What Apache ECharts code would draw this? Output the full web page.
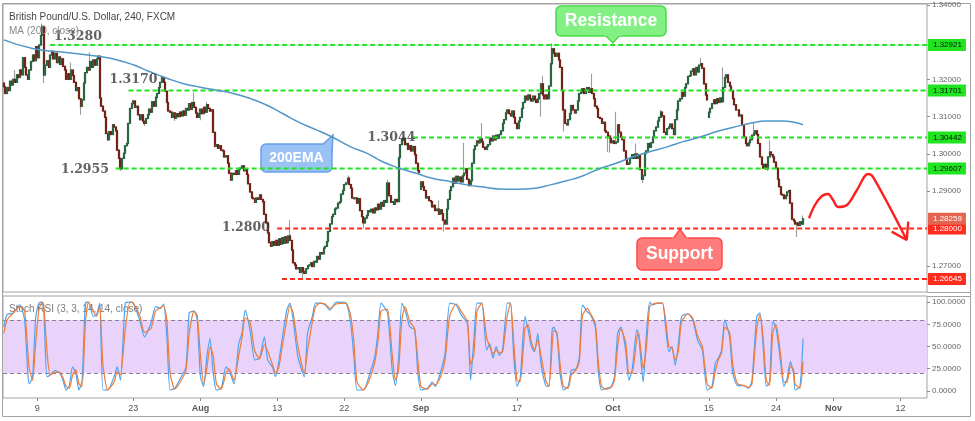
<!DOCTYPE html>
<html><head><meta charset="utf-8">
<script src="https://cdn.jsdelivr.net/npm/echarts@6/dist/echarts.min.js"></script>
<style>html,body{margin:0;padding:0;background:#fff}#c{width:975px;height:421px}</style>
</head><body><div id="c"></div>
<script>
// ---------------- data ----------------
const barCount = 578;
const firstOpen = 1.3190;
const closes = [
1.3180,1.3162,1.3178,1.3170,1.3195,1.3185,1.3200,1.3192,1.3212,1.3205,
1.3225,1.3212,1.3258,1.3232,1.3212,1.3200,1.3225,1.3248,1.3265,1.3250,
1.3288,1.3258,1.3292,1.3318,1.3342,1.3212,1.3238,1.3250,1.3232,1.3265,
1.3275,1.3255,1.3270,1.3245,1.3260,1.3240,1.3255,1.3235,1.3225,1.3200,
1.3215,1.3200,1.3225,1.3210,1.3192,1.3170,1.3178,1.3148,1.3128,1.3145,
1.3190,1.3218,1.3232,1.3225,1.3248,1.3232,1.3252,1.3238,1.3255,1.3262,
1.3150,1.3128,1.3115,1.3098,1.3055,1.3038,1.3060,1.3052,1.3078,1.3072,
1.3062,1.3010,1.2988,1.2960,1.2988,1.3002,1.3022,1.3028,1.3082,1.3122,
1.3135,1.3142,1.3125,1.3128,1.3105,1.3092,1.3105,1.3088,1.3082,1.3095,
1.3105,1.3120,1.3112,1.3140,1.3128,1.3152,1.3162,1.3178,1.3192,1.3205,
1.3192,1.3168,1.3138,1.3115,1.3112,1.3098,1.3110,1.3096,1.3108,1.3100,
1.3112,1.3102,1.3115,1.3104,1.3122,1.3118,1.3135,1.3120,1.3138,1.3125,
1.3110,1.3098,1.3108,1.3120,1.3108,1.3125,1.3112,1.3132,1.3122,1.3115,
1.3118,1.3058,1.3020,1.3025,1.3015,1.3022,1.3010,1.3008,1.2992,1.2995,
1.2975,1.2948,1.2930,1.2948,1.2945,1.2955,1.2945,1.2958,1.2962,1.2968,
1.2955,1.2958,1.2945,1.2920,1.2898,1.2882,1.2880,1.2870,1.2882,1.2878,
1.2890,1.2878,1.2872,1.2838,1.2815,1.2788,1.2762,1.2752,1.2765,1.2755,
1.2768,1.2755,1.2772,1.2758,1.2775,1.2760,1.2778,1.2762,1.2780,1.2768,
1.2742,1.2708,1.2702,1.2692,1.2695,1.2682,1.2695,1.2685,1.2680,1.2692,
1.2700,1.2702,1.2708,1.2698,1.2712,1.2710,1.2725,1.2718,1.2735,1.2732,
1.2748,1.2752,1.2765,1.2792,1.2812,1.2832,1.2838,1.2852,1.2855,1.2868,
1.2872,1.2892,1.2902,1.2918,1.2922,1.2935,1.2918,1.2908,1.2882,1.2880,
1.2882,1.2868,1.2880,1.2848,1.2832,1.2815,1.2828,1.2835,1.2848,1.2845,
1.2852,1.2842,1.2855,1.2850,1.2865,1.2852,1.2870,1.2860,1.2875,1.2870,
1.2922,1.2888,1.2870,1.2872,1.2865,1.2878,1.2872,1.2990,1.3025,1.3038,
1.3042,1.3025,1.3028,1.3012,1.3022,1.3008,1.3020,1.2998,1.2975,1.2955,
1.2950,1.2925,1.2912,1.2902,1.2882,1.2885,1.2875,1.2872,1.2858,1.2862,
1.2848,1.2852,1.2838,1.2850,1.2840,1.2822,1.2812,1.2852,1.2878,1.2902,
1.2912,1.2935,1.2922,1.2940,1.2928,1.2938,1.2925,1.2942,1.2948,1.2960,
1.2932,1.2915,1.2928,1.2975,1.3012,1.3022,1.3035,1.3030,1.3040,1.3032,
1.3018,1.3012,1.3020,1.3025,1.3042,1.3035,1.3048,1.3038,1.3050,1.3042,
1.3052,1.3062,1.3082,1.3092,1.3110,1.3118,1.3108,1.3102,1.3115,1.3098,
1.3082,1.3068,1.3088,1.3098,1.3122,1.3138,1.3155,1.3145,1.3158,1.3148,
1.3142,1.3155,1.3145,1.3138,1.3148,1.3162,1.3188,1.3158,1.3148,1.3158,
1.3148,1.3182,1.3242,1.3282,1.3270,1.3262,1.3270,1.3252,1.3232,1.3170,
1.3118,1.3082,1.3078,1.3092,1.3108,1.3130,1.3118,1.3110,1.3118,1.3142,
1.3162,1.3165,1.3175,1.3162,1.3172,1.3178,1.3165,1.3175,1.3162,1.3148,
1.3128,1.3122,1.3098,1.3095,1.3082,1.3085,1.3062,1.3058,1.3048,1.3042,
1.3030,1.3035,1.3028,1.3032,1.3078,1.3058,1.3045,1.3038,1.3008,1.2985,
1.2972,1.2975,1.2988,1.2998,1.2988,1.3000,1.2988,1.2998,1.2958,1.2932,
1.2942,1.3002,1.3008,1.3028,1.3018,1.3030,1.3045,1.3062,1.3072,1.3088,
1.3098,1.3112,1.3102,1.3058,1.3052,1.3068,1.3072,1.3080,1.3068,1.3052,
1.3092,1.3118,1.3142,1.3148,1.3165,1.3155,1.3178,1.3188,1.3208,1.3210,
1.3222,1.3228,1.3212,1.3232,1.3220,1.3238,1.3242,1.3230,1.3188,1.3158,
1.3145,1.3112,1.3122,1.3135,1.3145,1.3135,1.3148,1.3138,1.3150,1.3140,
1.3178,1.3205,1.3212,1.3192,1.3182,1.3170,1.3148,1.3132,1.3118,1.3118,
1.3102,1.3104,1.3078,1.3045,1.3028,1.3022,1.3030,1.3038,1.3050,1.3055,
1.3062,1.3052,1.3028,1.2992,1.2972,1.2962,1.2972,1.2960,1.2992,1.3005,
1.2998,1.2992,1.2978,1.2962,1.2932,1.2912,1.2892,1.2890,1.2880,1.2888,
1.2898,1.2902,1.2868,1.2825,1.2820,1.2812,1.2815,1.2808,1.2818,1.2812,1.2826
];
const gapOpens = {261: 1.2905, 441: 1.3098};
const wickHighs = {7:1.3225, 24:1.3350, 42:1.3245, 54:1.3273, 99:1.3210, 119:1.3165, 127:1.3140, 179:1.2823,
  216:1.2942, 240:1.2930, 250:1.3048, 272:1.2875, 288:1.3030, 299:1.3083, 337:1.3210, 343:1.3297, 368:1.3215,
  383:1.3113, 395:1.3028, 411:1.3118, 436:1.3257, 450:1.3232, 469:1.3086, 479:1.3037, 500:1.2835};
const wickLows = {25:1.3190, 48:1.3105, 73:1.2955, 88:1.3075, 107:1.3088, 123:1.3090, 187:1.2665, 225:1.2800,
  275:1.2791, 336:1.3100, 350:1.3060, 378:1.3005, 379:1.3003, 400:1.2922, 478:1.2955, 496:1.2777};

const maIdx = [0,18,39,60,71,81,91,102,112,123,133,143,154,165,175,185,196,206,217,227,237,248,258,268,279,290,300,310,321,331,342,352,362,373,383,394,404,415,425,436,446,456,467,477,487,500];
const maVals = [1.3306,1.3283,1.3272,1.3261,1.3252,1.3239,1.3221,1.3203,1.3189,1.3179,1.3171,1.3163,1.3149,1.3130,1.3107,1.3084,1.3064,1.3044,1.3019,1.3002,1.2979,1.2961,1.2948,1.2935,1.2926,1.2917,1.2911,1.2906,1.2905,1.2907,1.2917,1.2928,1.2941,1.2961,1.2975,1.2993,1.3006,1.3019,1.3033,1.3046,1.3060,1.3071,1.3082,1.3088,1.3088,1.3078];

const stochIdx = [0,2,6,10,13,15,16,18,20,22,24,25,27,29,32,35,37,39,41,43,45,47,49,51,53,56,58,60,62,65,69,71,73,76,79,81,85,88,92,95,98,100,102,104,107,111,114,116,119,121,123,125,127,129,131,133,136,139,141,144,147,149,151,154,157,160,163,165,168,170,172,174,177,179,181,184,188,190,193,195,198,201,204,208,214,217,219,221,225,229,232,234,236,240,243,245,247,249,251,254,257,259,261,265,268,270,273,276,279,283,286,290,292,294,296,299,302,304,306,308,310,312,315,317,319,321,323,326,328,330,332,334,336,339,341,343,344,346,348,350,353,355,358,360,362,365,367,370,372,374,377,380,382,384,386,389,391,393,396,397,400,402,404,406,409,412,414,416,418,420,422,424,428,431,434,437,440,443,445,447,449,451,454,456,459,463,466,468,471,473,475,477,479,481,483,486,488,490,492,494,495,498,500];
const stochK = [72,86,88,97,80,20,8,16,84,99,100,91,16,18,23,20,12,1,6,27,20,1,12,99,100,84,86,99,1,1,16,27,12,99,100,99,80,61,76,95,93,98,61,1,3,16,27,88,90,80,16,5,38,59,20,1,3,27,23,8,54,65,91,69,35,37,61,35,27,16,33,57,91,99,80,38,16,65,84,99,99,97,91,100,99,76,38,1,1,20,38,65,99,88,23,6,38,99,91,72,69,20,1,3,10,5,20,42,99,97,86,76,12,57,99,99,46,53,37,50,40,46,99,99,38,5,14,84,69,50,44,65,31,6,5,69,72,63,20,1,5,23,25,38,97,89,86,72,20,1,3,5,16,65,72,46,12,23,69,65,10,65,100,97,99,99,72,44,50,29,53,84,87,80,57,46,1,5,31,37,46,80,61,20,6,6,3,12,84,88,50,5,10,78,72,31,5,14,33,20,1,5,59];
const stochD = [65,80,88,95,90,45,25,12,55,92,100,97,45,18,21,21,15,5,3,18,24,8,5,75,100,90,84,95,30,1,10,22,18,70,100,99,85,66,70,90,94,96,80,20,2,12,24,65,90,85,40,8,25,50,40,8,2,20,25,12,40,60,82,78,45,36,52,45,30,20,26,48,80,96,88,50,20,45,78,95,99,98,93,98,99,85,55,10,1,14,32,55,90,92,40,12,25,80,95,78,70,35,5,2,8,7,15,35,85,98,90,78,30,40,90,99,60,50,42,46,43,44,85,99,55,12,10,70,75,55,46,58,40,12,5,50,68,66,30,5,3,18,24,33,85,93,87,76,30,5,2,4,12,50,70,55,20,20,60,66,25,50,95,98,99,99,80,50,48,35,45,78,87,82,62,50,8,3,22,35,43,72,66,30,8,6,4,8,70,86,60,12,6,65,75,40,10,10,28,24,8,3,33];

const levelPrices = [1.32921, 1.31701, 1.30442, 1.29607, 1.28000, 1.26645];
const levelStartIdx = [29, 78, 256, 70, 171, 174];
const levelKinds = ['resistance','resistance','resistance','resistance','support','support'];
const lastPrice = 1.28259;

const xTickIdx = [21, 81, 123, 171, 213, 261, 321, 381, 441, 483, 519, 561];
const xTickLabels = ['9','23','Aug','13','22','Sep','17','Oct','15','24','Nov','12'];
const priceTicks = [1.27, 1.29, 1.30, 1.31, 1.32, 1.34];
const stochTicks = [0, 25, 50, 75, 100];

const annoText = ['1.3280', '1.3170', '1.2955', '1.2800', '1.3044'];
const annoIdx = [46.4, 81.1, 50.8, 151.5, 242.5];
const annoPrice = [1.33136, 1.31983, 1.29569, 1.28014, 1.30428];

const sketchIdx = [503.7, 507.4, 511.8, 515.6, 518.7, 521.8, 527.4, 533.7, 540.6, 543.7, 564.8];
const sketchPrice = [1.28276, 1.28630, 1.28872, 1.28926, 1.28765, 1.28577, 1.28630, 1.29033, 1.29462, 1.29382, 1.27693];
const arrowIdx = [555.4, 564.8, 565.8];
const arrowPrice = [1.27915, 1.27693, 1.28183];

// ---------------- build ----------------
const cats = Array.from({length: barCount}, (_, i) => String(i));
const wickData = [], bodyData = [];
let prev = firstOpen;
closes.forEach((c, i) => {
  const o = gapOpens[i] !== undefined ? gapOpens[i] : prev;
  const hiB = Math.max(o, c), loB = Math.min(o, c);
  const h = wickHighs[i] !== undefined ? Math.max(wickHighs[i], hiB) : hiB;
  const l = wickLows[i] !== undefined ? Math.min(wickLows[i], loB) : loB;
  wickData.push([o, c, l, h]);
  bodyData.push([o, c, loB, hiB]);
  prev = c;
});
const pair = (xs, ys) => xs.map((x, i) => [x, ys[i]]);
const xMax = barCount - 0.5;

const GREEN = '#1fe41f', RED = '#ff2b1c';
const levelSeries = levelPrices.map((p, k) => {
  const res = levelKinds[k] === 'resistance';
  return {
    type: 'line', xAxisIndex: 1, yAxisIndex: 0, symbol: 'none', silent: true, z: 4,
    data: [[levelStartIdx[k], p], [xMax, p]],
    lineStyle: {color: res ? GREEN : RED, width: 2, type: [5, 3]},
    endLabel: {show: true, formatter: () => p.toFixed(5), distance: 1, fontSize: 8,
      fontFamily: 'Liberation Sans, Arial', color: res ? '#111' : '#fff',
      backgroundColor: res ? GREEN : RED, padding: [2, 4, 2, 5]}
  };
});
levelSeries.push({
  type: 'line', xAxisIndex: 1, yAxisIndex: 0, symbol: 'none', silent: true, z: 5,
  data: [[closes.length - 1, lastPrice], [xMax, lastPrice]],
  lineStyle: {opacity: 0},
  endLabel: {show: true, formatter: () => lastPrice.toFixed(5), distance: 1, fontSize: 8,
    fontFamily: 'Liberation Sans, Arial', color: '#fff', backgroundColor: '#e46452', padding: [2, 4, 2, 5]}
});

const noZeroLine = {show: false, onZero: false};
const option = {
  animation: false,
  textStyle: {fontFamily: 'Liberation Sans, Arial, sans-serif'},
  grid: [
    {left: 3, top: 4, width: 924, height: 288, show: true, borderColor: '#a3a3a3', borderWidth: 1},
    {left: 3, top: 296, width: 924, height: 102, show: true, borderColor: '#a3a3a3', borderWidth: 1}
  ],
  xAxis: [
    {type: 'category', gridIndex: 0, data: cats, boundaryGap: true, show: false, axisLine: noZeroLine},
    {type: 'value', gridIndex: 0, min: -0.5, max: xMax, show: false, axisLine: noZeroLine},
    {type: 'value', gridIndex: 1, min: -0.5, max: xMax,
      axisLine: noZeroLine, splitLine: {show: false},
      axisTick: {show: true, customValues: xTickIdx, length: 3, lineStyle: {color: '#8a8a8a'}},
      axisLabel: {customValues: xTickIdx, color: '#555', fontSize: 9, margin: 6,
        formatter: v => { const k = xTickIdx.indexOf(Math.round(v)); if (k < 0) return '';
          const t = xTickLabels[k]; return /^[A-Za-z]/.test(t) ? '{b|' + t + '}' : t; },
        rich: {b: {fontWeight: 'bold', color: '#555', fontSize: 9}}}}
  ],
  yAxis: [
    {type: 'value', gridIndex: 0, position: 'right', min: 1.26297, max: 1.34021, scale: true,
      axisLine: noZeroLine, splitLine: {show: false},
      axisTick: {show: true, customValues: priceTicks, length: 3, lineStyle: {color: '#8a8a8a'}},
      axisLabel: {customValues: priceTicks, formatter: v => v.toFixed(5), fontSize: 8, color: '#666', margin: 5}},
    {type: 'value', gridIndex: 1, position: 'right', min: -8, max: 107,
      axisLine: noZeroLine, splitLine: {show: false},
      axisTick: {show: true, customValues: stochTicks, length: 3, lineStyle: {color: '#8a8a8a'}},
      axisLabel: {customValues: stochTicks, formatter: v => v.toFixed(4), fontSize: 8, color: '#666', margin: 5}}
  ],
  series: [
    {type: 'candlestick', name: 'wick', xAxisIndex: 0, yAxisIndex: 0, data: wickData, barWidth: 1.4, silent: true, z: 2,
      itemStyle: {color: '#9c9c9c', color0: '#9c9c9c', borderColor: '#9c9c9c', borderColor0: '#9c9c9c', borderWidth: 1.1}},
    {type: 'candlestick', name: 'GBPUSD', xAxisIndex: 0, yAxisIndex: 0, data: bodyData, barWidth: 1.5, silent: true, z: 3,
      itemStyle: {color: '#3b875a', color0: '#a9372a', borderColor: '#2a6544', borderColor0: '#742217', borderWidth: 1.2}},
    {type: 'line', name: 'MA 200', xAxisIndex: 1, yAxisIndex: 0, data: pair(maIdx, maVals), smooth: true,
      symbol: 'none', silent: true, z: 6, lineStyle: {color: '#5096c6', width: 1.5}},
    ...levelSeries,
    {type: 'scatter', xAxisIndex: 1, yAxisIndex: 0, silent: true, z: 7, symbolSize: 0,
      data: annoText.map((t, k) => [annoIdx[k], annoPrice[k], t]),
      label: {show: true, position: 'inside', formatter: p => p.data[2], fontFamily: 'DejaVu Serif',
        fontWeight: 'bold', fontSize: 12.5, color: '#3a3a3a'}},
    {type: 'line', xAxisIndex: 1, yAxisIndex: 0, data: pair(sketchIdx, sketchPrice), smooth: 0.35,
      symbol: 'none', silent: true, z: 8, lineStyle: {color: '#ff1f1f', width: 2.4}},
    {type: 'line', xAxisIndex: 1, yAxisIndex: 0, data: pair(arrowIdx, arrowPrice),
      symbol: 'none', silent: true, z: 8, lineStyle: {color: '#ff1f1f', width: 2.4}},
    {type: 'line', name: '%K', xAxisIndex: 2, yAxisIndex: 1, data: pair(stochIdx, stochK), smooth: 0.2,
      symbol: 'none', silent: true, z: 5, lineStyle: {color: '#4ba4f2', width: 1.2},
      markArea: {silent: true, itemStyle: {color: '#e9d3fb'}, data: [[{yAxis: 20}, {yAxis: 80}]]},
      markLine: {silent: true, symbol: 'none', label: {show: false},
        lineStyle: {color: '#8b8090', type: [4, 3], width: 1}, data: [{yAxis: 80}, {yAxis: 20}]}},
    {type: 'line', name: '%D', xAxisIndex: 2, yAxisIndex: 1, data: pair(stochIdx, stochD), smooth: 0.2,
      symbol: 'none', silent: true, z: 6, lineStyle: {color: '#f27b35', width: 1.2}}
  ],
  graphic: [
    {type: 'rect', shape: {x: 2.5, y: 3.5, width: 968, height: 413}, style: {fill: 'none', stroke: '#a3a3a3', lineWidth: 1}, silent: true, z: 0},
    {type: 'line', shape: {x1: 927, y1: 292.5, x2: 970.5, y2: 292.5}, style: {stroke: '#a3a3a3', lineWidth: 1}, silent: true},
    {type: 'line', shape: {x1: 927, y1: 296.5, x2: 970.5, y2: 296.5}, style: {stroke: '#a3a3a3', lineWidth: 1}, silent: true},
    {type: 'text', x: 9, y: 17.5, style: {text: 'British Pound/U.S. Dollar, 240, FXCM', fontSize: 10, fill: '#454545',
      fontFamily: 'Liberation Sans, Arial', textVerticalAlign: 'middle'}, silent: true, z: 10},
    {type: 'text', x: 9, y: 31, style: {text: 'MA (200, close)', fontSize: 10, fill: '#8a8a8a',
      fontFamily: 'Liberation Sans, Arial', textVerticalAlign: 'middle'}, silent: true, z: 10},
    {type: 'text', x: 9, y: 309, style: {text: 'Stoch RSI (3, 3, 14, 14, close)', fontSize: 10, fill: '#7a7a7a',
      fontFamily: 'Liberation Sans, Arial', textVerticalAlign: 'middle'}, silent: true, z: 1},
    {type: 'group', z: 1, silent: true, children: [
      {type: 'rect', shape: {x: 556, y: 6, width: 110, height: 30, r: 5}, style: {fill: '#83f083', stroke: '#49da49', lineWidth: 1.5}},
      {type: 'polygon', shape: {points: [[605, 35], [620, 35], [613, 43]]}, style: {fill: '#83f083', stroke: '#49da49', lineWidth: 1.5}},
      {type: 'rect', shape: {x: 604, y: 33, width: 17, height: 3}, style: {fill: '#83f083'}},
      {type: 'text', x: 611, y: 21, style: {text: 'Resistance', fill: '#fff', fontSize: 17.5, fontWeight: 'bold',
        fontFamily: 'Liberation Sans, Arial', textAlign: 'center', textVerticalAlign: 'middle'}}
    ]},
    {type: 'group', z: 1, silent: true, children: [
      {type: 'rect', shape: {x: 637, y: 238, width: 85, height: 32, r: 5}, style: {fill: '#ff7c7c', stroke: '#ff4a4a', lineWidth: 1.5}},
      {type: 'polygon', shape: {points: [[673, 239], [687, 239], [680, 229]]}, style: {fill: '#ff7c7c', stroke: '#ff4a4a', lineWidth: 1.5}},
      {type: 'rect', shape: {x: 672, y: 238, width: 16, height: 3}, style: {fill: '#ff7c7c'}},
      {type: 'text', x: 679.5, y: 254.5, style: {text: 'Support', fill: '#fff', fontSize: 17.5, fontWeight: 'bold',
        fontFamily: 'Liberation Sans, Arial', textAlign: 'center', textVerticalAlign: 'middle'}}
    ]},
    {type: 'group', z: 1, silent: true, children: [
      {type: 'rect', shape: {x: 261, y: 144, width: 71, height: 28, r: 5}, style: {fill: '#9ac2f5', stroke: '#6a9fea', lineWidth: 1.5}},
      {type: 'polygon', shape: {points: [[322, 145], [333, 135], [332, 152]]}, style: {fill: '#9ac2f5', stroke: '#6a9fea', lineWidth: 1.5}},
      {type: 'rect', shape: {x: 320, y: 145, width: 11, height: 8}, style: {fill: '#9ac2f5'}},
      {type: 'text', x: 296.5, y: 158.5, style: {text: '200EMA', fill: '#fff', fontSize: 14, fontWeight: 'bold',
        fontFamily: 'Liberation Sans, Arial', textAlign: 'center', textVerticalAlign: 'middle'}}
    ]}
  ]
};
const chart = echarts.init(document.getElementById('c'), null, {renderer: 'canvas'});
chart.setOption(option);
</script></body></html>
